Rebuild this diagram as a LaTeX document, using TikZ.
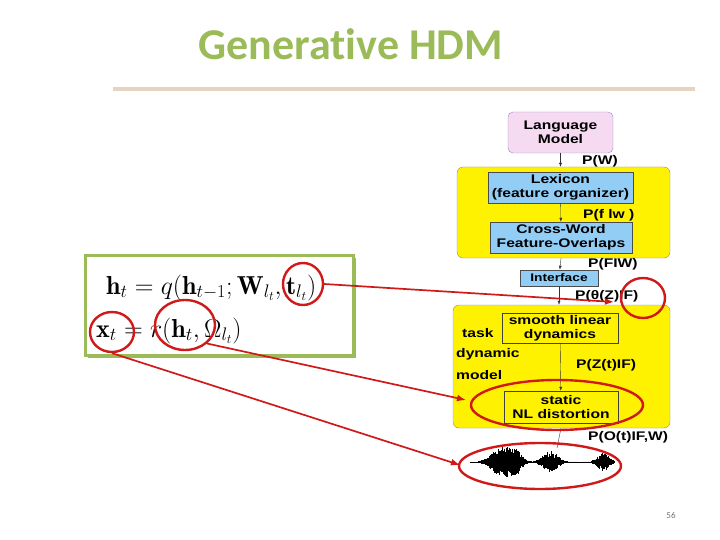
\RequirePackage{fix-cm}
\documentclass[tikz,border=0pt]{standalone}
\usepackage{fontspec}
\usetikzlibrary{shapes.geometric,arrows.meta}
\newfontfamily\boxfont[FakeStretch=1.25]{Liberation Sans}
\newfontfamily\titlefont[Ligatures=NoCommon]{Carlito}
\definecolor{titlegreen}{HTML}{9BBB59}
\definecolor{rulebeige}{HTML}{E6D3C0}
\definecolor{lmpink}{HTML}{F6DAF2}
\definecolor{lmborder}{HTML}{9C84C4}
\definecolor{boxblue}{HTML}{92CDF5}
\definecolor{markred}{HTML}{D01A1A}

\begin{document}
\begin{tikzpicture}[x=1pt,y=-1pt,
  txt/.style={font=\boxfont\bfseries\fontsize{12.5}{14}\selectfont,align=center,inner sep=0pt},
  lbl/.style={txt,anchor=west},
  bluebox/.style={txt,draw=black!70,fill=boxblue},
  yelbox/.style={draw=black!45,fill=yellow,rounded corners=6pt},
  inbox/.style={txt,draw=black!75,fill=yellow},
  redring/.style={draw=markred,line width=2.4pt,ellipse,inner sep=0pt},
  redarrow/.style={draw=markred,line width=1.7pt,-{Latex[length=9pt,width=7pt]}},
  eqtext/.style={anchor=base west,inner sep=0pt,font=\fontsize{26}{30}\selectfont},
  flow/.style={-{Latex[length=4pt,width=3pt]},black!80}]
\useasboundingbox (0,0) rectangle (720,540);

% title and rule
\node[text=titlegreen,font=\titlefont\bfseries\fontsize{44}{48}\selectfont] (title) at (351,44) {Generative HDM};
\draw[rulebeige,line width=3.5pt] (113,89) -- (695,89);

% right hand model
\node[txt,draw=lmborder,fill=lmpink,rounded corners=5pt,minimum width=105pt,minimum height=41pt] (lm) at (560.5,132.5) {Language\\Model};
\node[yelbox,minimum width=213pt,minimum height=91pt] (y1) at (563.5,212.5) {};
\node[bluebox,minimum width=145pt,minimum height=31pt] (lex) at (560.5,187.5) {Lexicon\\(feature organizer)};
\node[bluebox,minimum width=142pt,minimum height=31pt] (cw) at (561,237.5) {Cross-Word\\Feature-Overlaps};
\node[bluebox,minimum width=78pt,minimum height=16pt,font=\boxfont\bfseries\fontsize{11}{12}\selectfont] (iface) at (559,278) {Interface};
\node[yelbox,minimum width=217pt,minimum height=123pt] (y2) at (561.5,366.5) {};
\node[inbox,minimum width=116pt,minimum height=30pt] (sld) at (560,328) {smooth linear\\dynamics};
\node[inbox,minimum width=114pt,minimum height=32pt] (nl) at (561,407) {static\\NL distortion};

\draw[flow] (lm.south) -- (lm.south |- y1.north);
\draw[flow] (lex) -- (cw);
\draw[flow] (cw.south |- y1.south) -- (iface);
\draw[flow] (iface) -- (iface.south |- y2.north);
\draw[flow] (sld) -- (nl);
\coordinate (wavetop) at (557,448);
\draw[black!80] (nl.south |- y2.south) -- (wavetop);

\node[lbl] (pw) at (582,161) {P(W)};
\node[lbl] (pfw) at (583,215) {P(f lw )};
\node[lbl] (pfiw) at (588,264) {P(FIW)};
\node[lbl] (pthz) at (575,296) {P(θ(Z)IF)};
\node[lbl] (pzt) at (576,365) {P(Z(t)IF)};
\node[lbl] (pot) at (588,437) {P(O(t)IF,W)};
\node[lbl] (task) at (462,333) {task};
\node[lbl] (dyn) at (456,354) {dynamic};
\node[lbl] (mdl) at (456,375) {model};

% speech waveform
\pgfmathsetseed{11}
\draw[black,line width=0.8pt] (470,462) -- (615,462);
\foreach \x in {478,478.45,...,614} {
  \pgfmathsetmacro\amp{14*exp(-((\x-500)/13)^2)+12*exp(-((\x-514)/9)^2)+11*exp(-((\x-550)/10)^2)+9*exp(-((\x-603)/8)^2)}
  \pgfmathsetmacro\up{min(\amp,15)*(0.45+0.55*rnd)}
  \pgfmathsetmacro\dn{min(\amp,15)*(0.45+0.55*rnd)}
  \draw[black,line width=0.55pt] (\x,462-\up) -- (\x,462+\dn);
}

% equations
\fill[black!35] (88,258) rectangle (356,358);
\node[draw=titlegreen,line width=3pt,fill=white,minimum width=268pt,minimum height=100pt] (eqbox) at (219,305) {};
\node[eqtext] (eq1) at (106,294)
  {$\mathbf{h}_t = q(\mathbf{h}_{t-1};\mathbf{W}_{l_t},\mathbf{t}_{l_t})$};
\node[eqtext] (eq2) at (96,337)
  {$\mathbf{x}_t = r(\mathbf{h}_t,\Omega_{l_t})$};

% red marks
\node[redring,minimum width=40pt,minimum height=42pt] (ct) at (303,284) {};
\node[redring,minimum width=44pt,minimum height=40pt] (cx) at (112,332) {};
\node[redring,minimum width=60pt,minimum height=50pt] (cr) at (185,325) {};
\node[redring,minimum width=44pt,minimum height=40pt] (cf) at (643,298) {};
\node[redring,minimum width=172pt,minimum height=50pt] (cnl) at (557,405) {};
\node[redring,minimum width=162pt,minimum height=46pt] (cwave) at (540,466) {};

\coordinate (tipf) at (614,302);
\coordinate (tipnl) at (466,400);
\coordinate (tipwave) at (460,465);
\draw[redarrow] (ct.east) -- (tipf);
\draw[redarrow] (cr.south east) -- (tipnl);
\draw[redarrow] (cx.south) -- (tipwave);

\node[text=black!55,font=\titlefont\fontsize{9}{10}\selectfont] (pgno) at (671,515) {56};
\end{tikzpicture}
\end{document}
